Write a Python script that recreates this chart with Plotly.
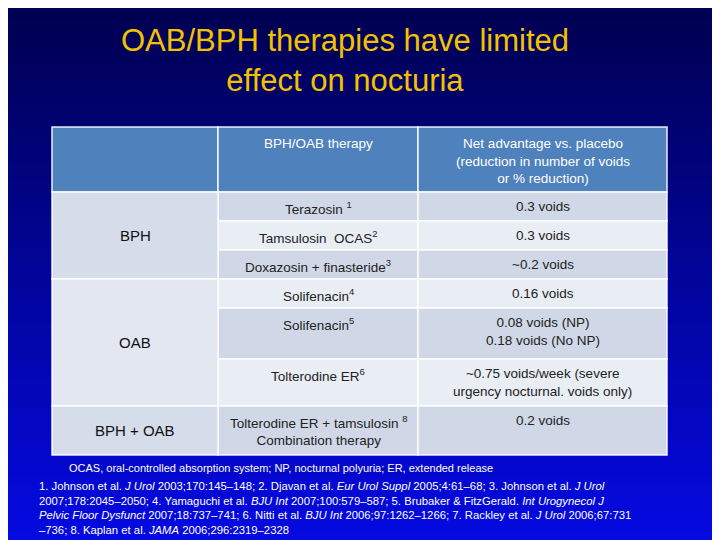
import plotly.graph_objects as go

# table content
groups = ["BPH", "OAB", "BPH + OAB"]
group_rows = [3, 3, 1]
therapies = ["Terazosin <sup>1</sup>", "Tamsulosin  OCAS<sup>2</sup>", "Doxazosin + finasteride<sup>3</sup>",
             "Solifenacin<sup>4</sup>", "Solifenacin<sup>5</sup>", "Tolterodine ER<sup>6</sup>",
             "Tolterodine ER + tamsulosin <sup>8</sup><br>Combination therapy"]
advantages = ["0.3 voids", "0.3 voids", "~0.2 voids", "0.16 voids",
              "0.08 voids (NP)<br>0.18 voids (No NP)",
              "~0.75 voids/week (severe<br>urgency nocturnal. voids only)", "0.2 voids"]
headers = ["", "BPH/OAB therapy", "Net advantage vs. placebo<br>(reduction in number of voids<br>or % reduction)"]

title = "OAB/BPH therapies have limited<br>effect on nocturia"
abbrev = "OCAS, oral-controlled absorption system; NP, nocturnal polyuria; ER, extended release"
refs = ("1. Johnson et al. <i>J Urol</i> 2003;170:145–148; 2. Djavan et al. <i>Eur Urol Suppl</i> 2005;4:61–68; 3. Johnson et al. <i>J Urol</i><br>"
        "2007;178:2045–2050; 4. Yamaguchi et al. <i>BJU Int</i> 2007;100:579–587; 5. Brubaker &amp; FitzGerald. <i>Int Urogynecol J</i><br>"
        "<i>Pelvic Floor Dysfunct</i> 2007;18:737–741; 6. Nitti et al. <i>BJU Int</i> 2006;97:1262–1266; 7. Rackley et al. <i>J Urol</i> 2006;67:731<br>"
        "–736; 8. Kaplan et al. <i>JAMA</i> 2006;296:2319–2328")

# layout geometry (pixels of the 720x540 page)
col_x = [52, 218, 418, 667]
head_top, head_bot = 127, 192
row_h = [29, 29, 29, 29, 51, 47, 49]
OFF = 8  # page body margin

fig = go.Figure()
shapes = []
ann = []

# background gradient
n = 60
for i in range(n):
    t = i / (n - 1)
    r, g, b = int(0 + 5 * t), int(0 + 10 * t), int(80 + 145 * t)
    shapes.append(dict(type="rect", xref="x", yref="y", x0=0, x1=720, y0=540 * i / n, y1=540 * (i + 1) / n + 1,
                       fillcolor=f"rgb({r},{g},{b})", line_width=0, layer="below"))

white = "rgba(255,255,255,0.9)"
# header
for c in range(3):
    shapes.append(dict(type="rect", x0=col_x[c], x1=col_x[c + 1], y0=head_top, y1=head_bot,
                       fillcolor="#4F81BD", line=dict(color=white, width=1.5)))
    ann.append(dict(x=(col_x[c] + col_x[c + 1]) / 2, y=head_top + 7, text=headers[c], yanchor="top",
                    showarrow=False, font=dict(color="white", size=13.5)))

# rows
y = head_bot
row_tops = []
for i, h in enumerate(row_h):
    row_tops.append(y)
    fill = "#D0D8E8" if i % 2 == 0 else "#E9EDF4"
    for c in (1, 2):
        shapes.append(dict(type="rect", x0=col_x[c], x1=col_x[c + 1], y0=y, y1=y + h,
                           fillcolor=fill, line=dict(color=white, width=1.5)))
    ann.append(dict(x=(col_x[1] + col_x[2]) / 2, y=y + 5, text=therapies[i], yanchor="top",
                    showarrow=False, font=dict(color="#222", size=13.5)))
    ann.append(dict(x=(col_x[2] + col_x[3]) / 2, y=y + 5, text=advantages[i], yanchor="top",
                    showarrow=False, font=dict(color="#222", size=13.5)))
    y += h
row_tops.append(y)

# group cells
k = 0
gfill = ["#D5DCEA", "#E2E7F1", "#D5DCEA"]
for g, nr in enumerate(group_rows):
    y0, y1 = row_tops[k], row_tops[k + nr]
    shapes.append(dict(type="rect", x0=col_x[0], x1=col_x[1], y0=y0, y1=y1,
                       fillcolor=gfill[g], line=dict(color=white, width=1.5)))
    ann.append(dict(x=(col_x[0] + col_x[1]) / 2, y=(y0 + y1) / 2, text=groups[g],
                    showarrow=False, font=dict(color="#111", size=15)))
    k += nr

ann.append(dict(x=345, y=60, text=title, showarrow=False,
                font=dict(color="#F2C200", size=31), align="center"))
ann.append(dict(x=67, y=468, text=abbrev, xanchor="left", showarrow=False,
                font=dict(color="white", size=11)))
ann.append(dict(x=37, y=508, text=refs, xanchor="left", showarrow=False, align="left",
                font=dict(color="white", size=11.3)))

fig.add_trace(go.Scatter(x=[OFF, 720], y=[OFF, 540], mode="markers", marker=dict(opacity=0),
                         hoverinfo="skip", showlegend=False))
fig.update_layout(
    width=720 - OFF, height=540 - OFF, margin=dict(l=0, r=0, t=0, b=0),
    paper_bgcolor="#000050", plot_bgcolor="rgba(0,0,0,0)",
    font=dict(family="Liberation Sans, Arial, sans-serif"),
    xaxis=dict(range=[OFF, 720], visible=False, fixedrange=True),
    yaxis=dict(range=[540, OFF], visible=False, fixedrange=True),
    shapes=shapes, annotations=ann, showlegend=False,
)
fig.write_html("out.html")
